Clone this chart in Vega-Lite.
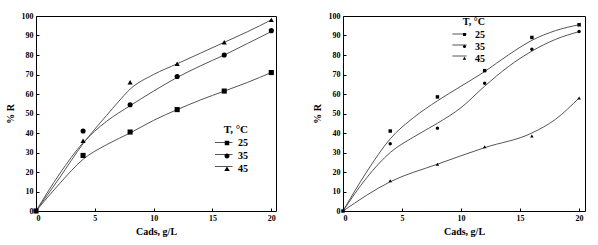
{
  "$schema": "https://vega.github.io/schema/vega-lite/v6.json",
  "padding": {"left": 4, "top": 11, "right": 4, "bottom": 0},
  "config": {
    "font": "Liberation Serif",
    "view": {"stroke": "black", "strokeWidth": 1},
    "concat": {"spacing": 34},
    "axis": {
      "domain": false, "grid": false,
      "tickSize": -3, "tickColor": "black", "tickWidth": 1,
      "labelFont": "Liberation Serif", "labelFontSize": 8, "labelFontWeight": "bold", "labelColor": "black",
      "titleFont": "Liberation Serif", "titleFontSize": 10, "titleFontWeight": "bold", "titleColor": "black"
    },
    "legend": {
      "titleFont": "Liberation Serif", "titleFontSize": 9, "titleFontWeight": "bold", "titleColor": "black",
      "labelFont": "Liberation Serif", "labelFontSize": 10, "labelFontWeight": "bold", "labelColor": "black",
      "rowPadding": 1, "titlePadding": 2, "labelOffset": 5, "titleAnchor": "end"
    }
  },
  "resolve": {"scale": {"color": "independent", "shape": "independent"}, "legend": {"color": "independent", "shape": "independent"}},
  "datasets": {
    "pts": [
      {"panel": "a", "T": "25", "C": 0, "R": 0},
      {"panel": "a", "T": "25", "C": 4, "R": 28.5},
      {"panel": "a", "T": "25", "C": 8, "R": 40.5},
      {"panel": "a", "T": "25", "C": 12, "R": 52},
      {"panel": "a", "T": "25", "C": 16, "R": 61.5},
      {"panel": "a", "T": "25", "C": 20, "R": 71},
      {"panel": "a", "T": "35", "C": 4, "R": 41},
      {"panel": "a", "T": "35", "C": 8, "R": 54.5},
      {"panel": "a", "T": "35", "C": 12, "R": 69},
      {"panel": "a", "T": "35", "C": 16, "R": 80},
      {"panel": "a", "T": "35", "C": 20, "R": 92.5},
      {"panel": "a", "T": "45", "C": 4, "R": 36},
      {"panel": "a", "T": "45", "C": 8, "R": 66},
      {"panel": "a", "T": "45", "C": 12, "R": 75.5},
      {"panel": "a", "T": "45", "C": 16, "R": 86.5},
      {"panel": "a", "T": "45", "C": 20, "R": 98},
      {"panel": "b", "T": "25", "C": 0, "R": 0},
      {"panel": "b", "T": "25", "C": 4, "R": 41},
      {"panel": "b", "T": "25", "C": 8, "R": 58.5},
      {"panel": "b", "T": "25", "C": 12, "R": 72},
      {"panel": "b", "T": "25", "C": 16, "R": 89},
      {"panel": "b", "T": "25", "C": 20, "R": 95.5},
      {"panel": "b", "T": "35", "C": 4, "R": 34.5},
      {"panel": "b", "T": "35", "C": 8, "R": 42.5},
      {"panel": "b", "T": "35", "C": 12, "R": 65.5},
      {"panel": "b", "T": "35", "C": 16, "R": 83},
      {"panel": "b", "T": "35", "C": 20, "R": 92},
      {"panel": "b", "T": "45", "C": 4, "R": 15.5},
      {"panel": "b", "T": "45", "C": 8, "R": 24},
      {"panel": "b", "T": "45", "C": 12, "R": 33},
      {"panel": "b", "T": "45", "C": 16, "R": 38.5},
      {"panel": "b", "T": "45", "C": 20, "R": 58}
    ],
    "fit": [
      {"panel": "a", "T": "25", "C": 0, "R": 0},
      {"panel": "a", "T": "25", "C": 2, "R": 14},
      {"panel": "a", "T": "25", "C": 4, "R": 26.5},
      {"panel": "a", "T": "25", "C": 6, "R": 34},
      {"panel": "a", "T": "25", "C": 8, "R": 40},
      {"panel": "a", "T": "25", "C": 10, "R": 46.5},
      {"panel": "a", "T": "25", "C": 12, "R": 52},
      {"panel": "a", "T": "25", "C": 14, "R": 57},
      {"panel": "a", "T": "25", "C": 16, "R": 61.5},
      {"panel": "a", "T": "25", "C": 18, "R": 66},
      {"panel": "a", "T": "25", "C": 20, "R": 71},
      {"panel": "a", "T": "35", "C": 0, "R": 0},
      {"panel": "a", "T": "35", "C": 2, "R": 19},
      {"panel": "a", "T": "35", "C": 4, "R": 35},
      {"panel": "a", "T": "35", "C": 5, "R": 41},
      {"panel": "a", "T": "35", "C": 6, "R": 46},
      {"panel": "a", "T": "35", "C": 8, "R": 54},
      {"panel": "a", "T": "35", "C": 10, "R": 61.5},
      {"panel": "a", "T": "35", "C": 12, "R": 68.5},
      {"panel": "a", "T": "35", "C": 14, "R": 74.5},
      {"panel": "a", "T": "35", "C": 16, "R": 80},
      {"panel": "a", "T": "35", "C": 18, "R": 86},
      {"panel": "a", "T": "35", "C": 20, "R": 92},
      {"panel": "a", "T": "45", "C": 0, "R": 0},
      {"panel": "a", "T": "45", "C": 2, "R": 17},
      {"panel": "a", "T": "45", "C": 4, "R": 34.5},
      {"panel": "a", "T": "45", "C": 5, "R": 42},
      {"panel": "a", "T": "45", "C": 6, "R": 49},
      {"panel": "a", "T": "45", "C": 7, "R": 56},
      {"panel": "a", "T": "45", "C": 8, "R": 62.5},
      {"panel": "a", "T": "45", "C": 10, "R": 70},
      {"panel": "a", "T": "45", "C": 12, "R": 75.5},
      {"panel": "a", "T": "45", "C": 14, "R": 81},
      {"panel": "a", "T": "45", "C": 16, "R": 86.5},
      {"panel": "a", "T": "45", "C": 18, "R": 92},
      {"panel": "a", "T": "45", "C": 20, "R": 98},
      {"panel": "b", "T": "25", "C": 0, "R": 0},
      {"panel": "b", "T": "25", "C": 2, "R": 20},
      {"panel": "b", "T": "25", "C": 4, "R": 37},
      {"panel": "b", "T": "25", "C": 6, "R": 48},
      {"panel": "b", "T": "25", "C": 8, "R": 56.5},
      {"panel": "b", "T": "25", "C": 10, "R": 64},
      {"panel": "b", "T": "25", "C": 12, "R": 71.5},
      {"panel": "b", "T": "25", "C": 14, "R": 80},
      {"panel": "b", "T": "25", "C": 16, "R": 87.5},
      {"panel": "b", "T": "25", "C": 18, "R": 92.5},
      {"panel": "b", "T": "25", "C": 20, "R": 95.5},
      {"panel": "b", "T": "35", "C": 0, "R": 0},
      {"panel": "b", "T": "35", "C": 2, "R": 17},
      {"panel": "b", "T": "35", "C": 4, "R": 30},
      {"panel": "b", "T": "35", "C": 6, "R": 38},
      {"panel": "b", "T": "35", "C": 8, "R": 45},
      {"panel": "b", "T": "35", "C": 10, "R": 53},
      {"panel": "b", "T": "35", "C": 12, "R": 64},
      {"panel": "b", "T": "35", "C": 14, "R": 74},
      {"panel": "b", "T": "35", "C": 16, "R": 82},
      {"panel": "b", "T": "35", "C": 18, "R": 88},
      {"panel": "b", "T": "35", "C": 20, "R": 92},
      {"panel": "b", "T": "45", "C": 0, "R": 0},
      {"panel": "b", "T": "45", "C": 4, "R": 15},
      {"panel": "b", "T": "45", "C": 8, "R": 24},
      {"panel": "b", "T": "45", "C": 12, "R": 32.5},
      {"panel": "b", "T": "45", "C": 16, "R": 40},
      {"panel": "b", "T": "45", "C": 18, "R": 47},
      {"panel": "b", "T": "45", "C": 20, "R": 58}
    ]
  },
  "hconcat": [
    {
      "width": 240, "height": 195,
      "encoding": {
        "x": {"field": "C", "type": "quantitative", "scale": {"domain": [0, 20.4], "nice": false},
              "axis": {"values": [0, 5, 10, 15, 20], "title": "Cads, g/L", "labelPadding": 6, "titlePadding": 4}},
        "y": {"field": "R", "type": "quantitative", "scale": {"domain": [0, 100], "nice": false},
              "axis": {"values": [0, 10, 20, 30, 40, 50, 60, 70, 80, 90, 100], "title": "% R", "labelPadding": 6, "titlePadding": 6}}
      },
      "layer": [
        {"data": {"name": "fit"}, "transform": [{"filter": "datum.panel == 'a'"}],
         "mark": {"type": "line", "interpolate": "monotone", "strokeWidth": 1},
         "encoding": {"color": {"field": "T", "type": "nominal", "scale": {"range": ["#555", "#555", "#555"]},
           "legend": {"title": "\u00a0", "titleFontSize": 11, "orient": "none", "legendX": 185, "legendY": 108, "symbolSize": 100,
             "symbolType": "M-2.3,0L1.2,0", "symbolStrokeWidth": 1, "symbolStrokeColor": "#555",
             "labelExpr": "'\u00a0'", "titleColor": "transparent", "labelColor": "transparent"}}}},
        {"data": {"name": "pts"}, "transform": [{"filter": "datum.panel == 'a'"}],
         "mark": {"type": "point", "filled": true, "color": "black", "opacity": 1, "size": 26},
         "encoding": {"shape": {"field": "T", "type": "nominal",
           "scale": {"domain": ["25", "35", "45"], "range": ["square", "circle", "triangle-up"]}, "legend": null}}},
        {"data": {"name": "pts"}, "transform": [{"filter": "datum.panel == 'a' && datum.C < 0"}],
         "mark": {"type": "point", "filled": true, "color": "black", "opacity": 1},
         "encoding": {"shape": {"field": "T", "type": "nominal",
           "scale": {"domain": ["25", "35", "45"], "range": [
             "M-0.45,-0.45L0.45,-0.45L0.45,0.45L-0.45,0.45Z",
             "M-0.5,0A0.5,0.5,0,1,1,0.5,0A0.5,0.5,0,1,1,-0.5,0Z",
             "M-0.55,0.42L0,-0.5L0.55,0.42Z"]},
           "legend": {"title": "T, °C", "titleFontSize": 11, "orient": "none", "legendX": 185, "legendY": 108, "symbolSize": 100}}}},
        {"data": {"values": [{}]},
         "mark": {"type": "text", "align": "left", "baseline": "middle", "font": "Liberation Serif", "fontWeight": "bold", "fontSize": 9, "color": "black"},
         "encoding": {"x": {"datum": 0.6}, "y": {"datum": 96.5}, "text": {"value": "a)"}}}
      ],
      "resolve": {"scale": {"shape": "independent"}}
    },
    {
      "width": 242, "height": 195,
      "encoding": {
        "x": {"field": "C", "type": "quantitative", "scale": {"domain": [0, 20.5], "nice": false},
              "axis": {"values": [0, 5, 10, 15, 20], "title": "Cads, g/L", "labelPadding": 6, "titlePadding": 4}},
        "y": {"field": "R", "type": "quantitative", "scale": {"domain": [0, 100], "nice": false},
              "axis": {"values": [0, 10, 20, 30, 40, 50, 60, 70, 80, 90, 100], "title": "% R", "labelPadding": 6, "titlePadding": 6}}
      },
      "layer": [
        {"data": {"name": "fit"}, "transform": [{"filter": "datum.panel == 'b'"}],
         "mark": {"type": "line", "interpolate": "monotone", "strokeWidth": 1},
         "encoding": {"color": {"field": "T", "type": "nominal", "scale": {"range": ["#555555", "#555555", "#555555"]},
           "legend": {"title": "\u00a0", "titleFontSize": 10, "orient": "none", "legendX": 116, "legendY": 1, "symbolSize": 80, "labelOffset": 5,
             "symbolType": "M-2.6,0L0.6,0", "symbolStrokeWidth": 1, "symbolStrokeColor": "#555",
             "labelExpr": "'\u00a0'", "titleColor": "transparent", "labelColor": "transparent"}}}},
        {"data": {"name": "pts"}, "transform": [{"filter": "datum.panel == 'b'"}],
         "mark": {"type": "point", "filled": true, "color": "black", "opacity": 1, "size": 12},
         "encoding": {"shape": {"field": "T", "type": "nominal",
           "scale": {"domain": ["25", "35", "45"], "range": ["square", "circle", "triangle-up"]}, "legend": null}}},
        {"data": {"name": "pts"}, "transform": [{"filter": "datum.panel == 'b' && datum.C < 0"}],
         "mark": {"type": "point", "filled": true, "color": "black", "opacity": 1},
         "encoding": {"shape": {"field": "T", "type": "nominal",
           "scale": {"domain": ["25", "35", "45"], "range": [
             "M-0.33,-0.33L0.33,-0.33L0.33,0.33L-0.33,0.33Z",
             "M-0.35,0A0.35,0.35,0,1,1,0.35,0A0.35,0.35,0,1,1,-0.35,0Z",
             "M-0.4,0.3L0,-0.38L0.4,0.3Z"]},
           "legend": {"title": "T, °C", "titleFontSize": 10, "orient": "none", "legendX": 116, "legendY": 1, "symbolSize": 80, "labelOffset": 5}}}},
        {"data": {"values": [{}]},
         "mark": {"type": "text", "align": "left", "baseline": "middle", "font": "Liberation Serif", "fontWeight": "bold", "fontSize": 9, "color": "black"},
         "encoding": {"x": {"datum": 0.75}, "y": {"datum": 97}, "text": {"value": "b)"}}}
      ],
      "resolve": {"scale": {"shape": "independent"}}
    }
  ]
}
